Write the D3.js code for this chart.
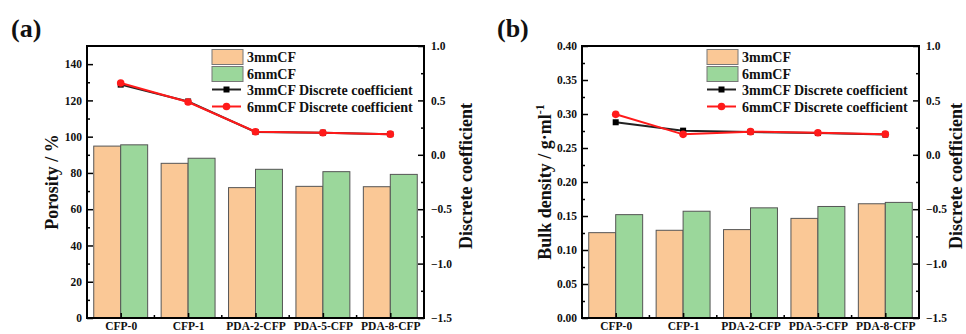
<!DOCTYPE html>
<html>
<head>
<meta charset="utf-8">
<script src="https://cdn.jsdelivr.net/npm/d3@7"></script>
<style>
  body { margin: 0; background: #fff; }
  text { font-family: "Liberation Serif", "Times New Roman", serif; font-weight: bold; }
</style>
</head>
<body>
<svg width="966" height="334"></svg>
<script>
// data
var categories = ["CFP-0", "CFP-1", "PDA-2-CFP", "PDA-5-CFP", "PDA-8-CFP"];

var porosity3 = [94.8, 85.3, 71.9, 72.6, 72.4];
var porosity6 = [95.5, 88.1, 82.0, 80.7, 79.2];
var porosityDc3 = [0.645, 0.49, 0.21, 0.203, 0.19];
var porosityDc6 = [0.66, 0.485, 0.212, 0.203, 0.19];

var density3 = [0.1255, 0.129, 0.130, 0.1465, 0.168];
var density6 = [0.152, 0.157, 0.162, 0.164, 0.170];
var densityDc3 = [0.299, 0.222, 0.21, 0.20, 0.186];
var densityDc6 = [0.372, 0.188, 0.213, 0.203, 0.19];

var porosityTicks = [0, 20, 40, 60, 80, 100, 120, 140];
var densityTicks = [0, 0.05, 0.10, 0.15, 0.20, 0.25, 0.30, 0.35, 0.40];
var dcTicks = [-1.5, -1.0, -0.5, 0.0, 0.5, 1.0];

var seriesNames = ["3mmCF", "6mmCF", "3mmCF Discrete coefficient", "6mmCF Discrete coefficient"];

var orange = "#fac896", green = "#9bd79b", barStroke = "#555";
var lineBlack = "#222", lineRed = "#ff1a1a";

var svg = d3.select("svg");
svg.append("rect").attr("width", 966).attr("height", 334).attr("fill", "#fff");

function panel(o) {
  var g = svg.append("g");
  var top = 46, bottom = 318;

  var x = d3.scaleBand().domain(categories).range([o.left, o.right])
      .paddingInner(0.2).paddingOuter(0.1);
  var x2 = d3.scaleBand().domain([0, 1]).range([0, x.bandwidth()]);
  var y = d3.scaleLinear().domain(o.yDomain).range([bottom, top]);
  var yr = d3.scaleLinear().domain([-1.5, 1.0]).range([bottom, top]);

  // bars
  var sets = [o.v3, o.v6], cols = [orange, green];
  sets.forEach(function(vals, k) {
    g.selectAll(".bar" + k).data(vals).enter().append("rect")
        .attr("x", function(d, i) { return x(categories[i]) + x2(k); })
        .attr("y", function(d) { return y(d); })
        .attr("width", x2.bandwidth())
        .attr("height", function(d) { return bottom - y(d); })
        .attr("fill", cols[k])
        .attr("stroke", barStroke)
        .attr("stroke-width", 1);
  });

  // axes (ticks pointing inward)
  var ax = g.append("g").attr("transform", "translate(" + o.left + ",0)")
      .call(d3.axisLeft(y).tickValues(o.yTicks).tickSizeInner(-6).tickSizeOuter(0)
        .tickPadding(5).tickFormat(o.yFmt));
  g.append("g").attr("transform", "translate(" + o.left + ",0)")
      .call(d3.axisLeft(y).tickValues(o.yMinor).tickSizeInner(-3).tickSizeOuter(0).tickFormat(""));
  var ar = g.append("g").attr("transform", "translate(" + o.right + ",0)")
      .call(d3.axisRight(yr).tickValues(dcTicks).tickSizeInner(-6).tickSizeOuter(0)
        .tickPadding(7).tickFormat(d3.format(".1f")));
  g.append("g").attr("transform", "translate(" + o.right + ",0)")
      .call(d3.axisRight(yr).tickValues(d3.range(-1.25, 1.0, 0.5)).tickSizeInner(-3).tickSizeOuter(0).tickFormat(""));
  var ab = g.append("g").attr("transform", "translate(0," + bottom + ")")
      .call(d3.axisBottom(d3.scalePoint().domain(categories)
        .range([x(categories[0]) + x.bandwidth() / 2, x(categories[4]) + x.bandwidth() / 2]))
        .tickSizeInner(-5).tickSizeOuter(0).tickPadding(4));
  g.selectAll(".domain").remove();
  g.selectAll(".tick line").attr("stroke", "#000").attr("stroke-width", 1.5);
  [ax, ar, ab].forEach(function(a) {
    a.selectAll("text").attr("font-size", 11.5).attr("fill", "#111")
      .attr("font-family", "Liberation Serif").attr("font-weight", "bold");
  });
  // minor ticks between categories
  g.selectAll(".xminor").data(d3.range(1, categories.length)).enter().append("line")
      .attr("x1", function(i) { return x(categories[i]) - x.step() * x.paddingInner() / 2; })
      .attr("x2", function(i) { return x(categories[i]) - x.step() * x.paddingInner() / 2; })
      .attr("y1", bottom).attr("y2", bottom - 3)
      .attr("stroke", "#000").attr("stroke-width", 1.5);

  // frame
  g.append("rect").attr("x", o.left).attr("y", top)
      .attr("width", o.right - o.left).attr("height", bottom - top)
      .attr("fill", "none").attr("stroke", "#000").attr("stroke-width", 2);

  // discrete coefficient lines
  var line = d3.line()
      .x(function(d, i) { return x(categories[i]) + x.bandwidth() / 2; })
      .y(function(d) { return yr(d); });
  g.append("path").datum(o.dc3).attr("d", line)
      .attr("fill", "none").attr("stroke", lineBlack).attr("stroke-width", 2);
  g.selectAll(".sq").data(o.dc3).enter().append("rect")
      .attr("x", function(d, i) { return x(categories[i]) + x.bandwidth() / 2 - 3; })
      .attr("y", function(d) { return yr(d) - 3; })
      .attr("width", 6).attr("height", 6).attr("fill", "#000");
  g.append("path").datum(o.dc6).attr("d", line)
      .attr("fill", "none").attr("stroke", lineRed).attr("stroke-width", 2);
  g.selectAll(".dot").data(o.dc6).enter().append("circle")
      .attr("cx", function(d, i) { return x(categories[i]) + x.bandwidth() / 2; })
      .attr("cy", function(d) { return yr(d); })
      .attr("r", 3.8).attr("fill", lineRed);

  // legend
  var lx = o.left + 125;
  var lg = g.append("g").attr("transform", "translate(" + lx + ",0)");
  [orange, green].forEach(function(c, k) {
    lg.append("rect").attr("x", 0).attr("y", 49.5 + k * 17).attr("width", 31).attr("height", 15)
        .attr("fill", c).attr("stroke", "#777").attr("stroke-width", 1);
  });
  [[lineBlack, "sq"], [lineRed, "dot"]].forEach(function(s, k) {
    var ly = 89.5 + k * 17;
    lg.append("line").attr("x1", 0).attr("x2", 29).attr("y1", ly).attr("y2", ly)
        .attr("stroke", s[0]).attr("stroke-width", 2);
    if (s[1] == "sq") lg.append("rect").attr("x", 11.5).attr("y", ly - 3).attr("width", 6).attr("height", 6).attr("fill", "#000");
    else lg.append("circle").attr("cx", 14.5).attr("cy", ly).attr("r", 3.8).attr("fill", lineRed);
  });
  lg.selectAll(".lt").data(seriesNames).enter().append("text")
      .attr("x", 35)
      .attr("y", function(d, i) { return [62, 79, 94.5, 111.5][i]; })
      .attr("font-size", 14).attr("fill", "#111")
      .text(function(d) { return d; });

  // panel label
  svg.append("text").attr("x", o.labelX).attr("y", 37).attr("font-size", 26).attr("fill", "#111").text(o.label);

  // axis titles
  var lt = svg.append("text")
      .attr("transform", "translate(" + o.titleX + ",182) rotate(-90)")
      .attr("text-anchor", "middle").attr("font-size", 18).attr("fill", "#111");
  lt.append("tspan").text(o.title);
  if (o.sup) lt.append("tspan").attr("dy", -7).attr("font-size", 12).text(o.sup);
  svg.append("text")
      .attr("transform", "translate(" + o.rTitleX + ",176) rotate(-90)")
      .attr("text-anchor", "middle").attr("font-size", 18).attr("fill", "#111")
      .text("Discrete coefficient");
}

panel({
  left: 87, right: 424, yDomain: [0, 150], yTicks: porosityTicks,
  yMinor: d3.range(10, 150, 20), yFmt: d3.format("d"),
  v3: porosity3, v6: porosity6, dc3: porosityDc3, dc6: porosityDc6,
  label: "(a)", labelX: 11, title: "Porosity / %", titleX: 58, rTitleX: 472
});

panel({
  left: 582, right: 919, yDomain: [0, 0.40], yTicks: densityTicks,
  yMinor: d3.range(0.025, 0.40, 0.05), yFmt: d3.format(".2f"),
  v3: density3, v6: density6, dc3: densityDc3, dc6: densityDc6,
  label: "(b)", labelX: 497, title: "Bulk density / g\u00b7ml", sup: "-1", titleX: 551, rTitleX: 962
});
</script>
</body>
</html>
